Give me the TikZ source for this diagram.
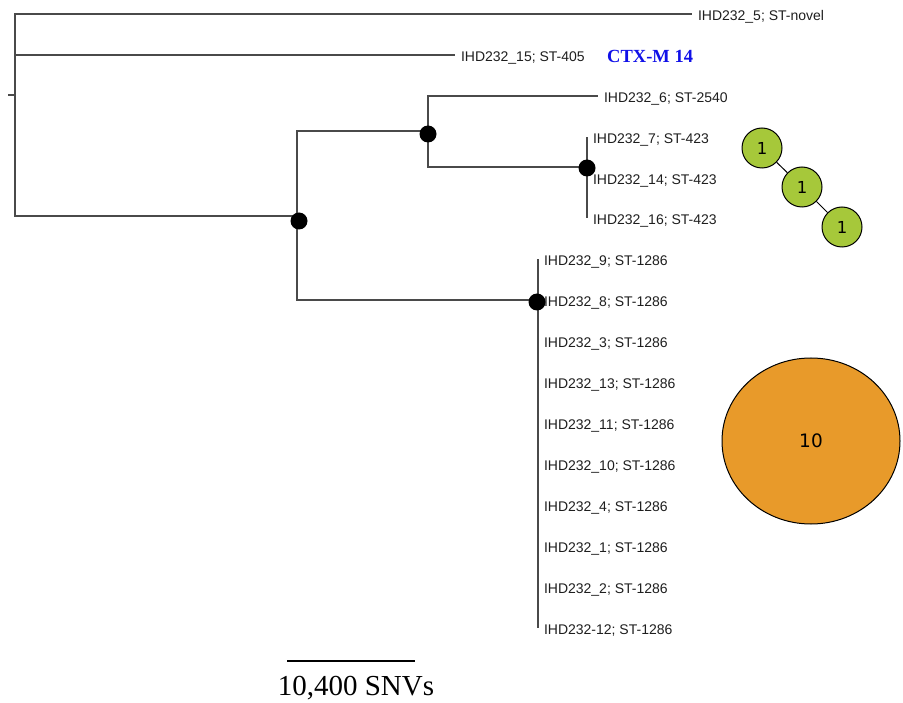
\documentclass[tikz,border=0pt]{standalone}
\usepackage{fontspec}
\setmainfont{Liberation Serif}
\newfontfamily\lblfont{Liberation Sans}
\newfontfamily\numfont{DejaVu Sans}
\usetikzlibrary{shapes.geometric}
\definecolor{treeline}{HTML}{4A4A4A}
\definecolor{lbltext}{HTML}{1E1E1E}
\definecolor{stgreen}{HTML}{A6C83A}
\definecolor{storange}{HTML}{E89A2A}
\definecolor{ctxblue}{HTML}{1010E8}
\tikzset{
  branch/.style={draw=treeline, line width=1.2pt},
  tiplabel/.style={anchor=west, inner sep=0pt, outer sep=6pt, text=lbltext,
    text height=14.6pt, text depth=2pt,
    font=\lblfont\fontsize{14}{16}\selectfont},
  bigdot/.style={circle, fill=black, inner sep=0pt, minimum size=17pt},
  stcircle/.style={circle, draw=black, line width=1pt, fill=stgreen, inner sep=0pt,
    minimum size=40pt, font=\numfont\fontsize{16.5}{18}\selectfont},
  stbig/.style={ellipse, draw=black, line width=1pt, fill=storange, inner sep=0pt,
    minimum width=178pt, minimum height=166pt, font=\numfont\fontsize{18.5}{20}\selectfont},
  stlink/.style={draw=black, line width=1pt},
}
\begin{document}
\begin{tikzpicture}[x=1pt,y=-1pt]
\useasboundingbox (0,0) rectangle (903,703);
% internal junctions
\coordinate (stub) at (8,95);
\coordinate (root) at (15,95);
\coordinate (nA) at (297,216);
\coordinate (nB) at (428,131);
\coordinate (nC) at (587,167);
\coordinate (nD) at (538,300);
% tip labels
\node[tiplabel] (t5) at (692,14) {IHD232\_5; ST-novel};
\node[tiplabel] (t15) at (455,55) {IHD232\_15; ST-405};
\node[anchor=west, inner sep=0pt, text=ctxblue, font=\bfseries\fontsize{18.5}{20}\selectfont] (ctx) at (607,56) {CTX-M 14};
\node[tiplabel] (t6) at (598,96) {IHD232\_6; ST-2540};
\node[tiplabel] (t7) at (587,137) {IHD232\_7; ST-423};
\node[tiplabel] (t14) at (587,178) {IHD232\_14; ST-423};
\node[tiplabel] (t16) at (587,218) {IHD232\_16; ST-423};
\node[tiplabel] (t9) at (538,259) {IHD232\_9; ST-1286};
\node[tiplabel] (t8) at (538,300) {IHD232\_8; ST-1286};
\node[tiplabel] (t3) at (538,341) {IHD232\_3; ST-1286};
\node[tiplabel] (t13) at (538,382) {IHD232\_13; ST-1286};
\node[tiplabel] (t11) at (538,423) {IHD232\_11; ST-1286};
\node[tiplabel] (t10) at (538,464) {IHD232\_10; ST-1286};
\node[tiplabel] (t4) at (538,505) {IHD232\_4; ST-1286};
\node[tiplabel] (t1) at (538,546) {IHD232\_1; ST-1286};
\node[tiplabel] (t2) at (538,587) {IHD232\_2; ST-1286};
\node[tiplabel] (t12) at (538,628) {IHD232-12; ST-1286};
% branches
\draw[branch] (stub) -- (root);
\draw[branch] (root) |- (t5);
\draw[branch] (root) |- (t15);
\draw[branch] (root) |- (nA);
\draw[branch] (nA) |- (nB);
\draw[branch] (nA) |- (nD);
\draw[branch] (nB) |- (t6);
\draw[branch] (nB) |- (nC);
\draw[branch] (nC) |- (t7);
\draw[branch] (nC) |- (t14);
\draw[branch] (nC) |- (t16);
\foreach \t in {t9,t8,t3,t13,t11,t10,t4,t1,t2,t12}{
  \draw[branch] (nD) |- (\t);
}
% support dots
\node[bigdot] (dA) at (299,221) {};
\node[bigdot] (dB) at (428,134) {};
\node[bigdot] (dC) at (587,168) {};
\node[bigdot] (dD) at (537,302) {};
% ST networks
\node[stcircle] (g1) at (762,148) {1};
\node[stcircle] (g2) at (802,187) {1};
\node[stcircle] (g3) at (842,227) {1};
\draw[stlink] (g1) -- (g2);
\draw[stlink] (g2) -- (g3);
\node[stbig] (o1) at (811,441) {10};
% scale bar
\coordinate (sbL) at (287,661);
\coordinate (sbR) at (415,661);
\draw[line width=1.1pt, draw=black] (sbL) -- (sbR);
\node[inner sep=0pt, font=\fontsize{29}{32}\selectfont] (sbtext) at (356,688) {10,400 SNVs};
\end{tikzpicture}
\end{document}
